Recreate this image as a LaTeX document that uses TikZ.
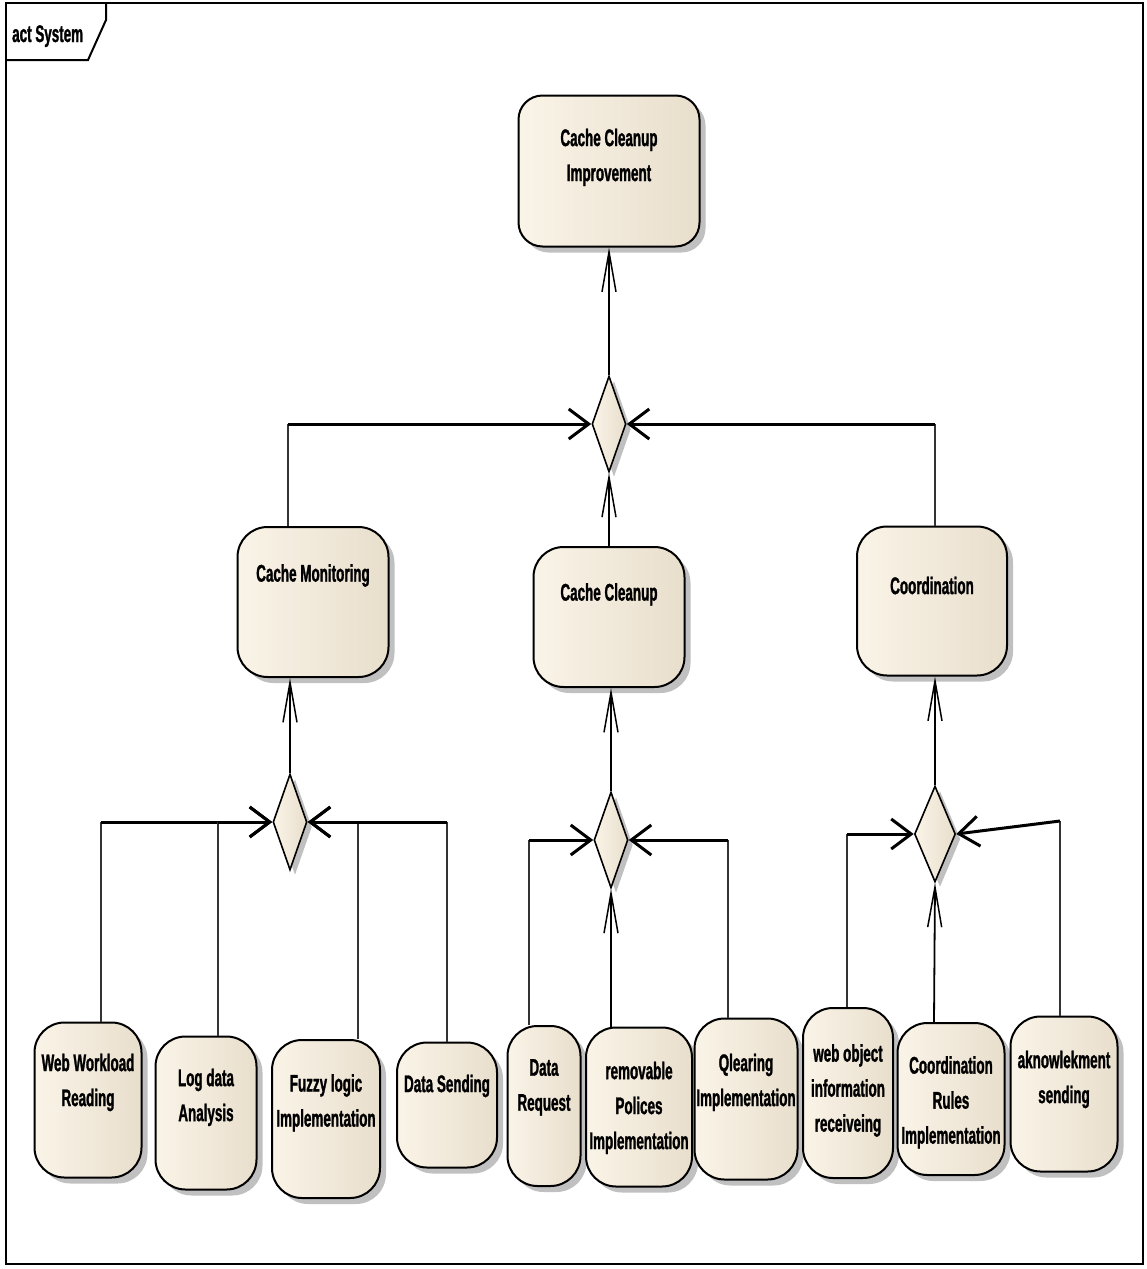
\documentclass[tikz,border=0pt]{standalone}
\usepackage{fontspec}
\newfontfamily\actfont{Liberation Sans Bold}[FakeStretch=0.56, FakeBold=1.2]
\usepackage{tikz}
\usetikzlibrary{arrows.meta,shapes.geometric,shadows,positioning}
\definecolor{actleft}{RGB}{250,244,232}
\definecolor{actright}{RGB}{232,222,204}
\definecolor{shadowgray}{RGB}{192,192,192}
\tikzset{activity/.style={
  % The shape:
  rectangle, rounded corners=30pt,
  % The border:
  draw=black, line width=2pt,
  % The filling:
  left color=actleft, right color=actright,
  drop shadow={shadow xshift=6pt, shadow yshift=-6pt, fill=shadowgray, opacity=1},
  inner sep=0pt,
  }
}
\tikzset{decision/.style={
  % The shape:
  diamond, inner sep=0pt,
  % The size:
  minimum width=34pt, minimum height=96pt,
  % The border:
  draw=black, line width=1.6pt,
  % The filling:
  left color=actleft, right color=actright,
  drop shadow={shadow xshift=5pt, shadow yshift=-5pt, fill=shadowgray, opacity=1},
  }
}
\tikzset{txt/.style={
  anchor=north, yshift=-#1, align=center, inner sep=0pt,
  font=\actfont\fontsize{24}{35}\selectfont,
  },
  txt/.default=34pt
}

\begin{document}
\begin{tikzpicture}[x=1pt, y=-1pt,
    rise/.style={line width=1.8pt, -{Straight Barb[length=40pt,width=14pt,line width=1.5pt]}},
    feed/.style={line width=2pt, draw=black!80},
    bus/.style={line width=3pt, draw=black, -{Straight Barb[length=20pt,width=30pt]}}]
  \useasboundingbox (0,0) rectangle (1146,1269);
  % Frame and its tab:
  \draw[line width=2.5pt] (6,3) rectangle (1143,1264);
  \draw[line width=2pt] (6,60) -- (88,60) -- (106,20) -- (106,3);
  \node[anchor=base west, inner sep=0pt, font=\actfont\fontsize{24}{30}\selectfont] (tab) at (12,42) {act System};

  % Goal:
  \node (improve) [activity, rounded corners=24pt, minimum width=181pt, minimum height=151pt,
    label={[txt=34pt]north:{Cache Cleanup\\Improvement}}] at (609,171) {};
  % Second level:
  \node (monitor) [activity, minimum width=151pt, minimum height=150pt,
    label={[txt=38pt]north:{Cache Monitoring}}] at (313,602) {};
  \node (clean) [activity, minimum width=151pt, minimum height=140pt,
    label={[txt=37pt]north:{Cache Cleanup}}] at (609,617) {};
  \node (coord) [activity, minimum width=150pt, minimum height=149pt,
    label={[txt=51pt]north:{Coordination}}] at (932,601) {};
  % Third level:
  \node (wwr) [activity, minimum width=107pt, minimum height=155pt,
    label={[txt=32pt]north:{Web Workload\\Reading}}] at (88,1100) {};
  \node (lda) [activity, minimum width=101pt, minimum height=153pt,
    label={[txt=33pt]north:{Log data\\Analysis}}] at (206,1113) {};
  \node (fli) [activity, minimum width=108pt, minimum height=158pt,
    label={[txt=35pt]north:{Fuzzy logic\\Implementation}}] at (326,1119) {};
  \node (ds) [activity, minimum width=100pt, minimum height=125pt,
    label={[txt=33pt]north:{Data Sending}}] at (447,1105) {};
  \node (dr) [activity, minimum width=73pt, minimum height=160pt,
    label={[txt=34pt]north:{Data\\Request}}] at (544,1106) {};
  \node (rpi) [activity, minimum width=106pt, minimum height=159pt,
    label={[txt=35pt]north:{removable\\Polices\\Implementation}}] at (639,1107) {};
  \node (qi) [activity, minimum width=103pt, minimum height=161pt,
    label={[txt=36pt]north:{Qlearing\\Implementation}}] at (746,1099) {};
  \node (woi) [activity, minimum width=90pt, minimum height=170pt,
    label={[txt=37pt]north:{web object\\information\\receiveing}}] at (848,1093) {};
  \node (cri) [activity, minimum width=107pt, minimum height=152pt,
    label={[txt=34pt]north:{Coordination\\Rules\\Implementation}}] at (951,1099) {};
  \node (aks) [activity, minimum width=107pt, minimum height=155pt,
    label={[txt=35pt]north:{aknowlekment\\sending}}] at (1064,1094) {};

  % Joins:
  \node (join) [decision] at (609,424) {};
  \node (monjoin) [decision] at (290,822) {};
  \node (cleanjoin) [decision] at (611,840) {};
  \node (coordjoin) [decision, minimum width=41pt] at (935,834) {};
  \coordinate (ackbend) at (1060,821);

  % Into the joins:
  \foreach \src/\dx/\side/\dst in {monitor/-25/west/join, coord/3/east/join,
      wwr/13/west/monjoin, lda/12/west/monjoin, fli/32/east/monjoin, ds/0/east/monjoin,
      dr/-15/west/cleanjoin, qi/-18/east/cleanjoin, woi/-1/west/coordjoin}
    \draw[feed] (\src.north) ++(\dx,0) coordinate (f) -- (f |- \dst.\side) edge[bus] (\dst.\side);
  \draw[feed] (aks.north -| ackbend) -- (ackbend) edge[bus] (coordjoin.east);

  % Up to the results:
  \draw[rise] (join.north) -- (improve.south);
  \draw[rise] (clean.north) -- (join.south);
  \draw[rise] (monjoin.north) -- (monjoin.north |- monitor.south);
  \draw[rise] (cleanjoin.north) -- (cleanjoin.north |- clean.south);
  \draw[rise] (coordjoin.north) -- (coordjoin.north |- coord.south);
  \draw[rise] (rpi.north) ++(-28,0) -- (cleanjoin.south);
  \draw[rise] (cri.north) ++(-17,0) -- (coordjoin.south);
\end{tikzpicture}
\end{document}
